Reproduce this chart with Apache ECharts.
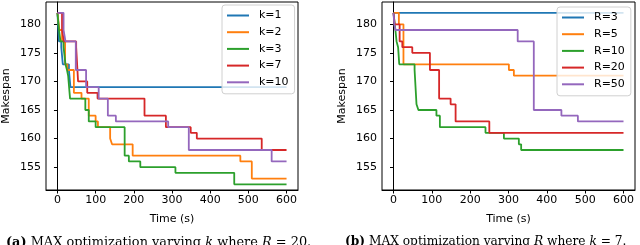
<!DOCTYPE html>
<html>
<head>
<meta charset="utf-8">
<script src="https://cdn.jsdelivr.net/npm/echarts@6/dist/echarts.min.js"></script>
<style>
html,body{margin:0;padding:0;background:#fff;}
#c{width:640px;height:245px;}
</style>
</head>
<body>
<div id="c"></div>
<script>
// ---- data (time in s, makespan) ----
const xTicks = [0, 100, 200, 300, 400, 500, 600];
const yTicks = [155, 160, 165, 170, 175, 180];

const namesK = ['k=1', 'k=2', 'k=3', 'k=7', 'k=10'];
const k1 = [[0,182],[4,177],[10,176],[14,173],[30,172],[34,169],[600,169]];
const k2 = [[0,182],[5,179],[12,177],[20,173],[26,172],[43,168],[63,167],[82,164],[100,163],[106,162],[138,160],[143,159],[197,157],[479,156],[509,153],[600,153]];
const k3 = [[0,182],[4,179],[8,177],[16,176],[21,173],[25,172],[28,171],[33,167],[73,165],[82,163],[100,162],[176,157],[187,156],[217,155],[309,154],[463,152],[600,152]];
const k7 = [[0,182],[12,179],[17,177],[49,176],[54,170],[78,168],[105,167],[228,164],[284,162],[349,161],[365,160],[535,158],[600,158]];
const k10 = [[0,182],[16,179],[21,177],[48,172],[75,169],[108,167],[132,164],[153,163],[290,162],[344,158],[561,156],[600,156]];

const namesR = ['R=3', 'R=5', 'R=10', 'R=20', 'R=50'];
const r3 = [[0,182],[600,182]];
const r5 = [[0,182],[14,180],[26,173],[301,172],[314,171],[600,171]];
const r10 = [[0,182],[5,179],[8,177],[12,176],[15,173],[55,172],[60,166],[65,165],[112,164],[121,162],[240,161],[288,160],[327,159],[333,158],[600,158]];
const r20 = [[0,182],[3,180],[16,177],[23,176],[49,175],[95,172],[119,167],[149,166],[162,163],[250,161],[600,161]];
const r50 = [[0,182],[2,180],[5,179],[324,177],[366,165],[438,164],[481,163],[600,163]];

const captionA = '{b|(a)} MAX optimization varying {i|k} where {i|R} = 20.';
const captionB = '{b|(b)} MAX optimization varying {i|R} where {i|k} = 7.';

// ---- styling ----
const colors = ['#1f77b4', '#ff7f0e', '#2ca02c', '#d62728', '#9467bd'];
const FONT = 'DejaVu Sans';
const SERIF = 'DejaVu Serif';

function xAxisCfg(gi) {
  return {
    type: 'value', gridIndex: gi, min: -30, max: 630,
    name: 'Time (s)', nameLocation: 'middle', nameGap: 24,
    nameTextStyle: {fontFamily: FONT, fontSize: 11, color: '#000'},
    axisLine: {show: true, lineStyle: {color: '#000', width: 1}},
    axisTick: {show: true, length: 3.5, lineStyle: {color: '#000'}, customValues: xTicks},
    axisLabel: {fontFamily: FONT, fontSize: 11, color: '#000', margin: 5, customValues: xTicks},
    splitLine: {show: false}
  };
}
function yAxisCfg(gi) {
  return {
    type: 'value', gridIndex: gi, min: 151, max: 183.9,
    name: 'Makespan', nameLocation: 'middle', nameGap: 34,
    nameTextStyle: {fontFamily: FONT, fontSize: 11, color: '#000'},
    axisLine: {show: true, lineStyle: {color: '#000', width: 1}},
    axisTick: {show: true, length: 3.5, lineStyle: {color: '#000'}, customValues: yTicks},
    axisLabel: {fontFamily: FONT, fontSize: 11, color: '#000', margin: 5, customValues: yTicks},
    splitLine: {show: false}
  };
}
function mkSeries(name, data, ci, gi) {
  return {
    name: name, type: 'line', step: 'end', data: data,
    xAxisIndex: gi, yAxisIndex: gi,
    symbol: 'none', showSymbol: false,
    lineStyle: {color: colors[ci], width: 1.8},
    itemStyle: {color: colors[ci]},
    emphasis: {disabled: true}, animation: false
  };
}
function legendCfg(names, left, top) {
  return {
    data: names, orient: 'vertical', left: left, top: top,
    icon: 'rect', itemWidth: 22, itemHeight: 2, itemGap: 5.7,
    padding: [5, 6, 6, 5],
    backgroundColor: 'rgba(255,255,255,0.8)', borderColor: '#d0d0d0', borderWidth: 1, borderRadius: 3,
    textStyle: {fontFamily: FONT, fontSize: 11, color: '#000', lineHeight: 11, padding: [0, 0, 0, 5]}
  };
}
const capText = (t, left, fs) => ({
  text: t, left: left, top: 231,
  textStyle: {
    fontFamily: SERIF, fontSize: fs, fontWeight: 'normal', color: '#000',
    rich: {
      b: {fontFamily: SERIF, fontSize: fs, fontWeight: 'bold', color: '#000'},
      i: {fontFamily: SERIF, fontSize: fs, fontStyle: 'italic', color: '#000'}
    }
  }
});

const chart = echarts.init(document.getElementById('c'), null, {renderer: 'canvas'});
chart.setOption({
  animation: false,
  backgroundColor: '#fff',
  title: [capText(captionA, 1, 12.9), capText(captionB, 340, 12.2)],
  grid: [
    {left: 46, top: 2, width: 252, height: 188, show: true, borderColor: '#000', borderWidth: 1, containLabel: false},
    {left: 382, top: 2, width: 253, height: 188, show: true, borderColor: '#000', borderWidth: 1, containLabel: false}
  ],
  xAxis: [xAxisCfg(0), xAxisCfg(1)],
  yAxis: [yAxisCfg(0), yAxisCfg(1)],
  legend: [legendCfg(namesK, 222, 5), legendCfg(namesR, 557, 7)],
  series: [
    mkSeries(namesK[0], k1, 0, 0),
    mkSeries(namesK[1], k2, 1, 0),
    mkSeries(namesK[2], k3, 2, 0),
    mkSeries(namesK[3], k7, 3, 0),
    mkSeries(namesK[4], k10, 4, 0),
    mkSeries(namesR[0], r3, 0, 1),
    mkSeries(namesR[1], r5, 1, 1),
    mkSeries(namesR[2], r10, 2, 1),
    mkSeries(namesR[3], r20, 3, 1),
    mkSeries(namesR[4], r50, 4, 1)
  ]
});
</script>
</body>
</html>
